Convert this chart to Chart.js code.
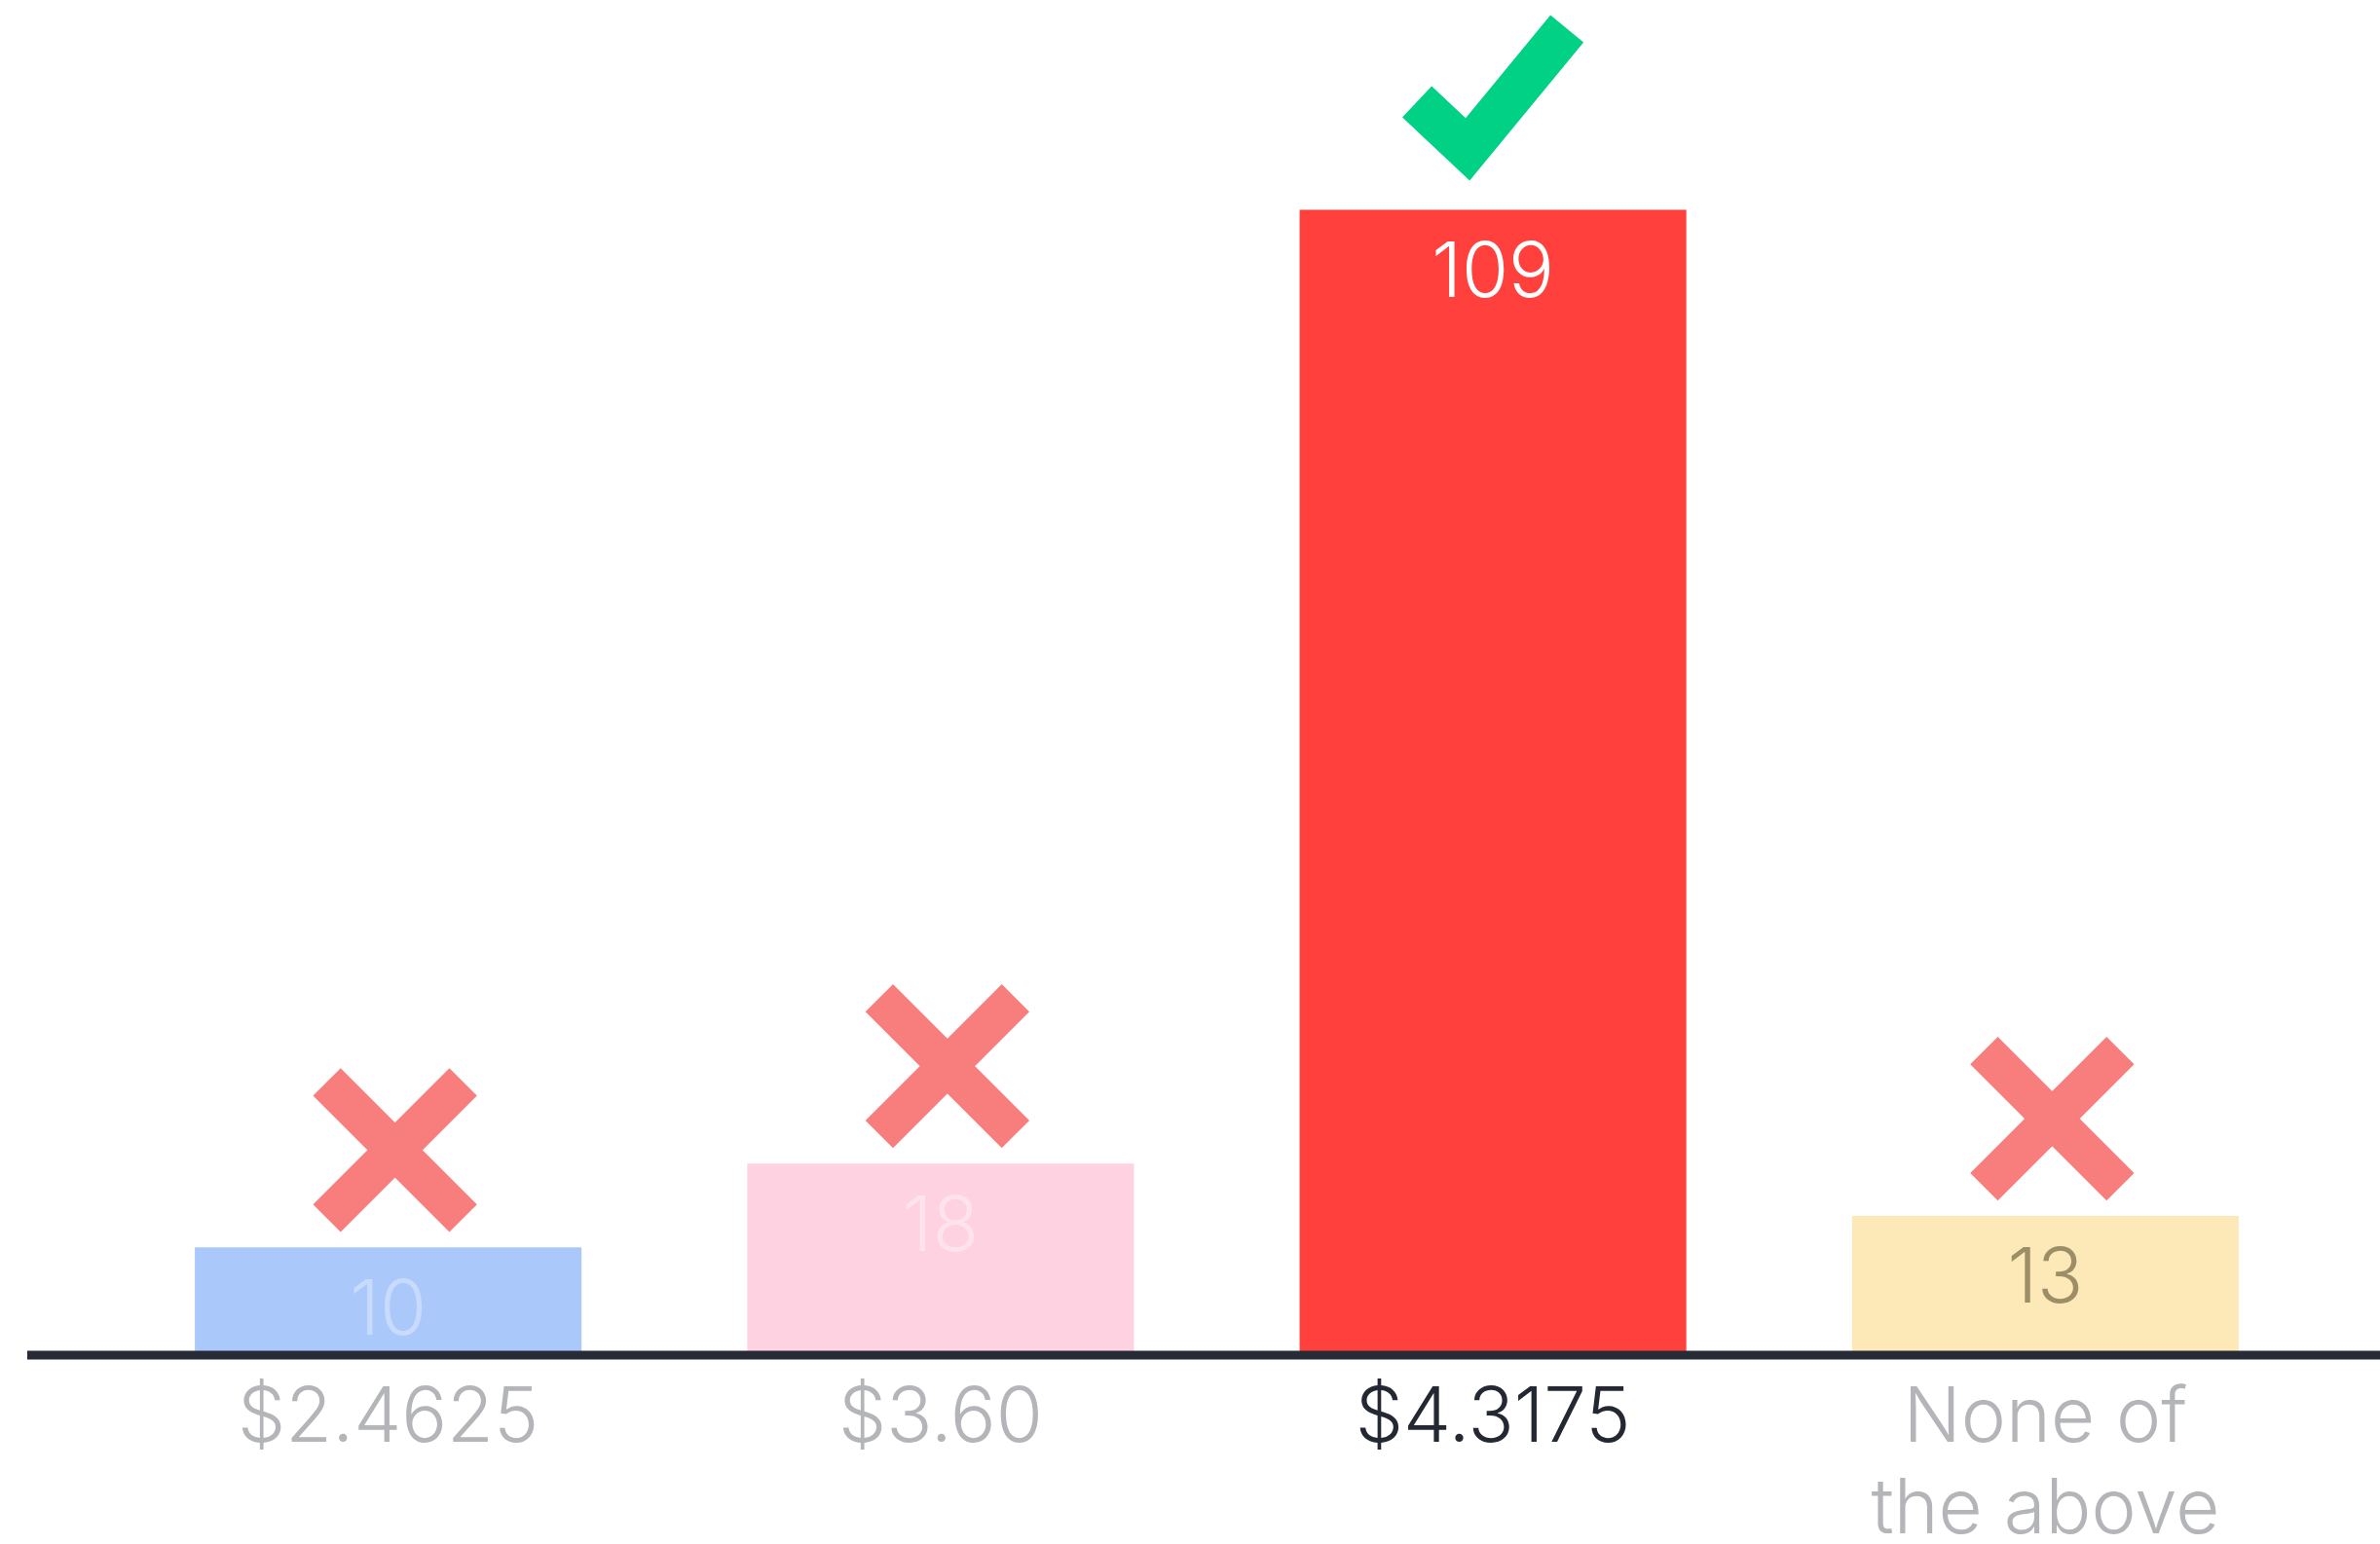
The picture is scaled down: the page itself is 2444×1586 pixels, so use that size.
<!DOCTYPE html>
<html>
<head>
<meta charset="utf-8">
<script src="https://cdn.jsdelivr.net/npm/chart.js@4.4.0/dist/chart.umd.min.js"></script>
<style>
  html, body { margin: 0; padding: 0; background: #ffffff; }
  #wrap { width: 2444px; height: 1586px; position: relative; }
</style>
</head>
<body>
<div id="wrap"><canvas id="quizChart"></canvas></div>
<script>
// datos del gráfico
const categories = ['$2.4625', '$3.60', '$4.3175', ['None of', 'the above']];
const votes = [10, 18, 109, 13];
const isCorrect = [false, false, true, false];

const barColors = ['#abc8fb', '#fed2e0', '#ff403d', '#fde8b8'];
const valueColors = ['#c8dbfc', '#ffe3ec', '#ffffff', '#9c8e66'];
const tickColors = ['#b4b5b9', '#b4b5b9', '#232833', '#b4b5b9'];
const FONT = "Inter, 'Liberation Sans', sans-serif";

// línea base, valores y marcas (✓ / ✗) sobre cada barra
const overlayPlugin = {
    id: 'overlay',
    afterDatasetsDraw(chart) {
        const ctx = chart.ctx;
        const yScale = chart.scales.y;
        const zeroY = yScale.getPixelForValue(0);
        const meta = chart.getDatasetMeta(0);

        // eje horizontal
        ctx.save();
        ctx.strokeStyle = '#262b35';
        ctx.lineWidth = 9;
        ctx.beginPath();
        ctx.moveTo(28, zeroY + 3);
        ctx.lineTo(chart.width, zeroY + 3);
        ctx.stroke();
        ctx.restore();

        meta.data.forEach((bar, i) => {
            const cx = bar.x;
            const top = bar.y;

            // valor dentro de la barra
            ctx.save();
            ctx.fillStyle = valueColors[i];
            ctx.font = `300 78px ${FONT}`;
            ctx.textAlign = 'center';
            ctx.textBaseline = 'middle';
            ctx.fillText(String(votes[i]), cx, top + 66);
            ctx.restore();

            ctx.save();
            ctx.lineCap = 'butt';
            ctx.lineJoin = 'miter';
            if (isCorrect[i]) {
                ctx.strokeStyle = '#00d185';
                ctx.lineWidth = 44;
                ctx.beginPath();
                ctx.moveTo(cx - 78, top - 111);
                ctx.lineTo(cx - 26, top - 62);
                ctx.lineTo(cx + 76, top - 186);
                ctx.stroke();
            } else {
                const a = 70;
                const mx = cx + 7;
                const my = top - 15 - 85;
                ctx.strokeStyle = '#f87e7d';
                ctx.lineWidth = 40;
                ctx.beginPath();
                ctx.moveTo(mx - a, my - a);
                ctx.lineTo(mx + a, my + a);
                ctx.moveTo(mx + a, my - a);
                ctx.lineTo(mx - a, my + a);
                ctx.stroke();
            }
            ctx.restore();
        });
    }
};

new Chart(document.getElementById('quizChart'), {
    type: 'bar',
    data: {
        labels: categories,
        datasets: [{
            data: votes,
            backgroundColor: barColors,
            borderWidth: 0,
            categoryPercentage: 1,
            barPercentage: 0.7
        }]
    },
    options: {
        responsive: true,
        maintainAspectRatio: false,
        animation: false,
        layout: {
            padding: { top: 97, left: 115, right: 60, bottom: 0 }
        },
        plugins: {
            legend: { display: false },
            tooltip: { enabled: false }
        },
        scales: {
            y: {
                display: false,
                min: 0,
                max: 120
            },
            x: {
                grid: { display: false, drawTicks: false },
                border: { display: false },
                afterFit(scale) { scale.height = 197; },
                ticks: {
                    padding: 22,
                    maxRotation: 0,
                    autoSkip: false,
                    color: (c) => tickColors[c.index],
                    font: { family: FONT, size: 78, weight: 300, lineHeight: 1.2 }
                }
            }
        }
    },
    plugins: [overlayPlugin]
});
</script>
</body>
</html>
